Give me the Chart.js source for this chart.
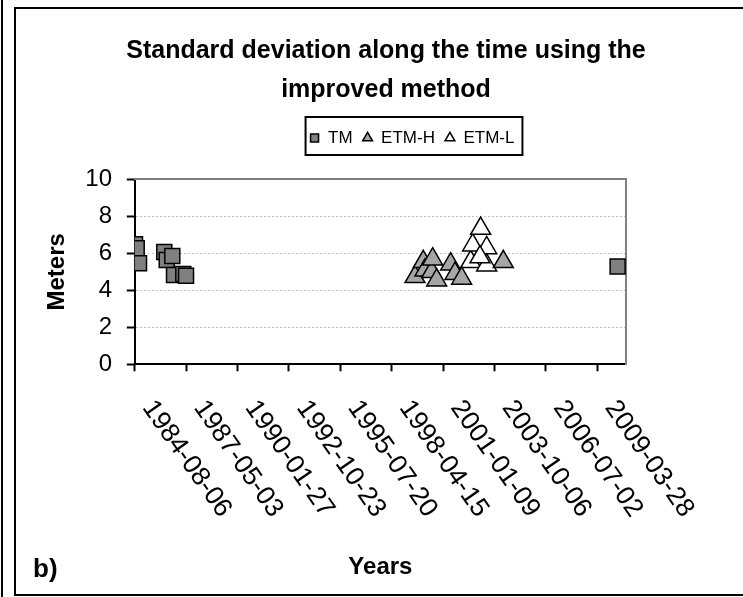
<!DOCTYPE html>
<html lang="en">
<head>
<meta charset="UTF-8" />
<title>Standard deviation along the time</title>
<style>
  body { margin: 0; background: #fff; font-family: 'Liberation Sans', Arial, sans-serif; }
  .wrap { position: relative; width: 743px; height: 597px; overflow: hidden; }
  .edge { position: absolute; left: 1px; top: 0; width: 2px; height: 597px; background: #000; }
  .frame { position: absolute; left: 14px; top: 7px; width: 800px; height: 589px; border: 2px solid #000; box-sizing: border-box; }
  .panel { position: absolute; left: 33px; top: 555px; font-weight: bold; font-size: 26px; line-height: 26px; }
  canvas { position: absolute; left: 0; top: 0; }
</style>
<script src="https://cdn.jsdelivr.net/npm/chart.js"></script>
</head>
<body>
<div class="wrap">
  <div class="edge"></div>
  <div class="frame"></div>
  <canvas id="sdChart" width="743" height="597"></canvas>
  <div class="panel">b)</div>
</div>

<script>
// date axis: ticks every 1000 days from 1984-08-06
const axisStart = '1984-08-06';
const axisEnd = '2010-10-09';
const tickLabels = ['1984-08-06', '1987-05-03', '1990-01-27', '1992-10-23', '1995-07-20',
                    '1998-04-15', '2001-01-09', '2003-10-06', '2006-07-02', '2009-03-28'];

// TM
const tmDates = ['1984-08-10', '1984-09-12', '1984-10-27', '1986-03-03', '1986-04-19',
                 '1986-08-06', '1986-09-08', '1987-03-08', '1987-04-30', '2010-04-29'];
const tmValues = [6.49, 6.27, 5.46, 6.07, 5.64, 5.85, 4.83, 4.88, 4.79, 5.28];

// ETM-H
const etmHDates = ['1999-07-12', '1999-12-20', '2000-01-22', '2000-06-01', '2000-06-20',
                   '2000-09-06', '2001-06-05', '2001-08-28', '2002-01-05', '2004-03-26'];
const etmHValues = [4.73, 5.54, 5.09, 5.0, 5.68, 4.55, 5.41, 4.9, 4.64, 5.54];

// ETM-L
const etmLDates = ['2002-06-30', '2002-08-07', '2003-01-10', '2003-05-07', '2003-05-07', '2002-12-28'];
const etmLValues = [5.54, 6.44, 7.34, 6.29, 5.36, 5.8];

const titleLines = ['Standard deviation along the time using the', 'improved method'];

const dayOf = s => (Date.parse(s) - Date.parse(axisStart)) / 86400000;
const toPoints = (dates, values) => dates.map((d, i) => ({ x: dayOf(d), y: values[i] }));

Chart.defaults.font.family = "'Liberation Sans', Arial, sans-serif";
Chart.defaults.color = '#000';

const legendShift = 26;

// excel style: labels hang down to the right from the tick
const labelTurn = {
  id: 'labelTurn',
  beforeDraw(chart) {
    chart.scales.x.getLabelItems().forEach(item => {
      if (item.turned) return;
      item.turned = true;
      item.options.textAlign = 'left';
      item.options.translation[0] += 13;
    });
  }
};

// legend box outline
const legendFrame = {
  id: 'legendFrame',
  afterLayout(chart) {
    chart.legend.left += legendShift;
    chart.legend.right += legendShift;
  },
  afterDraw(chart) {
    const boxes = chart.legend.legendHitBoxes;
    if (!boxes.length) return;
    const last = boxes[boxes.length - 1];
    const left = boxes[0].left - 4;
    const right = last.left + last.width + 8;
    const top = boxes[0].top - 12.5;
    const bottom = boxes[0].top + boxes[0].height + 8.5;
    const ctx = chart.ctx;
    ctx.save();
    ctx.strokeStyle = '#000';
    ctx.lineWidth = 2;
    ctx.strokeRect(left, top, right - left, bottom - top);
    ctx.restore();
  }
};

const hideEdges = c => (c.tick && (c.tick.value === 0 || c.tick.value === 10)) ? 'rgba(0,0,0,0)' : '#c0c0c0';

new Chart(document.getElementById('sdChart').getContext('2d'), {
  type: 'scatter',
  data: {
    datasets: [
      {
        label: 'TM',
        data: toPoints(tmDates, tmValues),
        pointStyle: 'rect',
        pointRadius: 10.6,
        backgroundColor: '#808080',
        borderColor: '#000',
        borderWidth: 1.5
      },
      {
        label: 'ETM-H',
        data: toPoints(etmHDates, etmHValues),
        pointStyle: 'triangle',
        pointRadius: 11.5,
        backgroundColor: '#a6a6a6',
        borderColor: '#000',
        borderWidth: 1.5
      },
      {
        label: 'ETM-L',
        data: toPoints(etmLDates, etmLValues),
        pointStyle: 'triangle',
        pointRadius: 11.5,
        backgroundColor: '#fff',
        borderColor: '#000',
        borderWidth: 1.5
      }
    ]
  },
  options: {
    responsive: false,
    animation: false,
    layout: { padding: { left: 29, right: 0, top: 0, bottom: 0 } },
    plugins: {
      title: {
        display: true,
        text: titleLines,
        color: '#000',
        font: { size: 25, weight: 'bold', lineHeight: 1.56 },
        padding: { top: 32, bottom: 9.5 }
      },
      legend: {
        position: 'top',
        labels: {
          usePointStyle: true,
          boxWidth: 10,
          boxHeight: 8,
          padding: 10,
          color: '#000',
          font: { size: 17 }
        }
      },
      tooltip: { enabled: false }
    },
    scales: {
      x: {
        type: 'linear',
        position: 'bottom',
        min: 0,
        max: dayOf(axisEnd),
        afterBuildTicks: s => { s.ticks = tickLabels.map(d => ({ value: dayOf(d) })); },
        ticks: {
          autoSkip: false,
          minRotation: -55,
          maxRotation: -55,
          padding: 23,
          color: '#000',
          font: { size: 26.5 },
          callback: (v, i) => tickLabels[i]
        },
        grid: { drawOnChartArea: false, tickLength: 7, tickWidth: 2, tickColor: '#000' },
        border: { color: '#000', width: 2 },
        title: {
          display: true,
          text: 'Years',
          color: '#000',
          font: { size: 24, weight: 'bold' },
          padding: { top: 0, bottom: 15.6 }
        },
        afterFit: s => { s.height = 232.7; }
      },
      y: {
        min: 0,
        max: 10,
        ticks: { stepSize: 2, padding: 14.8, color: '#000', font: { size: 24 } },
        grid: { color: hideEdges, lineWidth: 1, tickColor: '#000', tickLength: 8, tickWidth: 2 },
        border: { color: '#000', width: 2, dash: [2, 2] },
        title: {
          display: true,
          text: 'Meters',
          color: '#000',
          font: { size: 24, weight: 'bold' },
          padding: { top: 13.6, bottom: 0 }
        },
        afterFit: s => { s.width = 105.8; }
      },
      x2: {
        type: 'linear',
        position: 'top',
        min: 0,
        max: 1,
        ticks: { display: false },
        grid: { display: false, drawTicks: false },
        border: { color: '#808080', width: 2 },
        afterFit: s => { s.height = 22.8; }
      },
      y2: {
        type: 'linear',
        position: 'right',
        min: 0,
        max: 1,
        ticks: { display: false },
        grid: { display: false, drawTicks: false },
        border: { color: '#808080', width: 2 },
        afterFit: s => { s.width = 117; }
      }
    }
  },
  plugins: [labelTurn, legendFrame]
});
</script>
</body>
</html>
